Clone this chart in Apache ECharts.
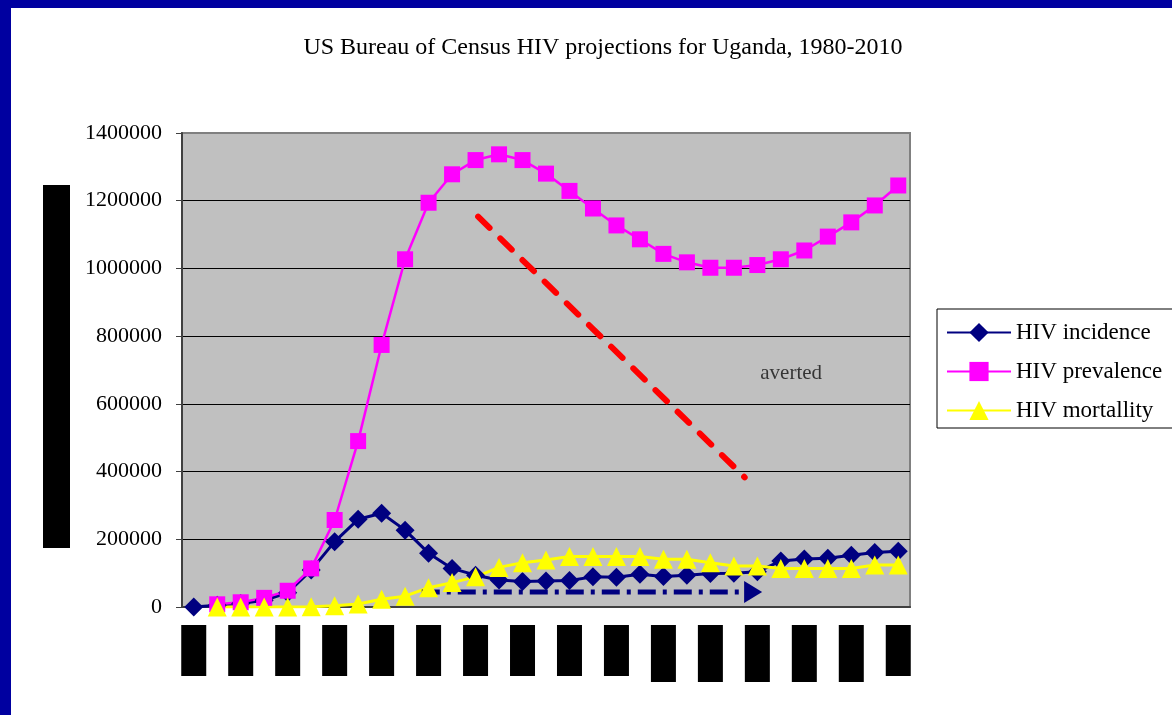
<!DOCTYPE html>
<html>
<head>
<meta charset="utf-8">
<script src="https://cdn.jsdelivr.net/npm/echarts@6/dist/echarts.min.js"></script>
<style>
  html, body { margin: 0; padding: 0; overflow: hidden; background: #0000A0; }
  #main { position: absolute; left: 11px; top: 8px; width: 1161px; height: 707px; background: #fff; }
</style>
</head>
<body>
<div id="main"></div>
<script>
// years on the x axis
const years = ['1980', '1981', '1982', '1983', '1984', '1985', '1986', '1987', '1988', '1989',
  '1990', '1991', '1992', '1993', '1994', '1995', '1996', '1997', '1998', '1999',
  '2000', '2001', '2002', '2003', '2004', '2005', '2006', '2007', '2008', '2009', '2010'];

const incidence = [0, 5000, 10000, 20000, 42000, 109000, 193000, 259000, 277000, 227000,
  159000, 114000, 94000, 80000, 75000, 77000, 78000, 89000, 88000, 97000,
  90000, 94000, 99000, 100000, 104000, 136000, 142000, 144000, 153000, 161000, 165000];

const prevalence = [null, 8000, 14000, 27000, 48000, 114000, 257000, 490000, 774000, 1027000,
  1194000, 1278000, 1320000, 1337000, 1320000, 1280000, 1229000, 1177000, 1127000, 1086000,
  1043000, 1018000, 1002000, 1002000, 1010000, 1027000, 1053000, 1094000, 1136000, 1186000, 1245000];

const mortality = [null, 0, 0, 0, 0, 1000, 4000, 9000, 23000, 32000,
  57000, 72000, 89000, 117000, 131000, 139000, 149000, 149000, 149000, 149000,
  141000, 141000, 131000, 121000, 121000, 114000, 114000, 114000, 114000, 124000, 124000];

// annotations, in (year index, value) units
const avertedLine = [[12.11, 1152800], [23.46, 383100]];
const arrowLine = [[9.71, 44300], [23.82, 44300]];
const avertedLabel = [[25.44, 691100]];

const serif = 'Liberation Serif';

const chart = echarts.init(document.getElementById('main'));

const option = {
  animation: false,
  title: {
    text: 'US Bureau of Census HIV projections for Uganda, 1980-2010',
    left: 587,
    textAlign: 'center',
    top: 23,
    textStyle: { fontFamily: serif, fontSize: 24, fontWeight: 'normal', color: '#000' }
  },
  legend: {
    data: ['HIV incidence', 'HIV prevalence', 'HIV mortallity'],
    orient: 'vertical',
    left: 926,
    top: 301,
    padding: [12, 40, 6, 9],
    itemGap: 16,
    itemWidth: 64,
    itemHeight: 24,
    borderColor: '#000',
    borderWidth: 1,
    textStyle: { fontFamily: serif, fontSize: 23, color: '#000' }
  },
  graphic: [{
    type: 'rect',
    shape: { x: 32, y: 177, width: 27, height: 363 },
    style: { fill: '#000' }
  }],
  grid: {
    left: 171, right: 262, top: 125, bottom: 108,
    show: true,
    backgroundColor: '#C0C0C0',
    borderColor: '#808080',
    borderWidth: 2
  },
  xAxis: [{
    type: 'category',
    data: years,
    boundaryGap: true,
    axisLine: { onZero: false, lineStyle: { color: '#404040', width: 2 } },
    axisTick: { interval: 0, length: 5, lineStyle: { color: '#404040' } },
    axisLabel: {
      interval: 1,
      margin: 18,
      formatter: function (v, i) {
        return (i >= 20 && i <= 28) ? '{t|' + v + '}' : '{b|' + v + '}';
      },
      rich: {
        b: { width: 25, height: 51, backgroundColor: '#000', color: '#000', fontSize: 9, align: 'center' },
        t: { width: 25, height: 57, backgroundColor: '#000', color: '#000', fontSize: 9, align: 'center' }
      }
    }
  }, {
    type: 'value',
    min: -0.5,
    max: 30.5,
    show: false
  }],
  yAxis: {
    type: 'value',
    min: 0,
    max: 1400000,
    interval: 200000,
    axisLine: { show: true, onZero: false, lineStyle: { color: '#404040', width: 2 } },
    axisTick: { show: true, length: 6, lineStyle: { color: '#404040' } },
    axisLabel: {
      margin: 20, fontFamily: serif, fontSize: 22, color: '#000',
      formatter: function (v) { return String(v); }
    },
    splitLine: { show: true, showMaxLine: false, lineStyle: { color: '#000', width: 1 } }
  },
  series: [
    {
      name: 'HIV incidence',
      type: 'line',
      data: incidence,
      showAllSymbol: true,
      symbol: 'diamond',
      symbolSize: 19,
      lineStyle: { color: '#000080', width: 3 },
      itemStyle: { color: '#000080' }
    },
    {
      name: 'HIV prevalence',
      type: 'line',
      data: prevalence,
      showAllSymbol: true,
      symbol: 'rect',
      symbolSize: 16,
      lineStyle: { color: '#FF00FF', width: 2.5 },
      itemStyle: { color: '#FF00FF' }
    },
    {
      name: 'HIV mortallity',
      type: 'line',
      data: mortality,
      showAllSymbol: true,
      symbol: 'triangle',
      symbolSize: 19,
      lineStyle: { color: '#FFFF00', width: 3 },
      itemStyle: { color: '#FFFF00' }
    },
    {
      name: 'averted line',
      type: 'line',
      xAxisIndex: 1,
      data: avertedLine,
      symbol: 'none',
      silent: true,
      lineStyle: { color: '#FF0000', width: 6, type: [16, 15], cap: 'round' }
    },
    {
      name: 'arrow',
      type: 'line',
      xAxisIndex: 1,
      data: arrowLine.map(function (p, i) {
        return i === 0
          ? { value: p, symbol: 'none' }
          : { value: p, symbol: 'triangle', symbolSize: [22, 18], symbolRotate: -90 };
      }),
      silent: true,
      lineStyle: { color: '#000080', width: 5, type: [18, 7, 4, 7] },
      itemStyle: { color: '#000080' }
    },
    {
      name: 'averted',
      type: 'scatter',
      xAxisIndex: 1,
      data: avertedLabel,
      symbolSize: 0,
      silent: true,
      label: {
        show: true,
        position: 'inside',
        formatter: 'averted',
        fontFamily: serif,
        fontSize: 21,
        color: '#111'
      }
    }
  ]
};

chart.setOption(option);
</script>
</body>
</html>
